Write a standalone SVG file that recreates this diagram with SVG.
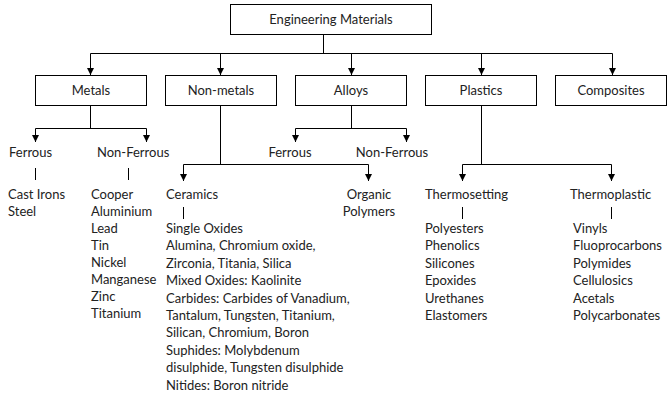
<svg xmlns="http://www.w3.org/2000/svg" width="668" height="396" viewBox="0 0 668 396">
  <style>
    .box { fill: #ffffff; stroke: #000000; stroke-width: 1; }
    .wire { fill: none; stroke: #000000; stroke-width: 1; }
    text { font-family: Lato, "Open Sans", "Liberation Sans", sans-serif; font-size: 13px; fill: #222222; }
    .c { text-anchor: middle; }
  </style>
  <defs>
    <marker id="arrow" viewBox="0 0 10 10" refX="10" refY="5" markerWidth="8" markerHeight="7" orient="auto" markerUnits="userSpaceOnUse">
      <path d="M0,0 L10,5 L0,10 z" fill="#000000"/>
    </marker>
  </defs>

  <rect width="668" height="396" fill="#ffffff"/>

  <!-- connectors -->
  <g id="connectors" class="wire">
    <path d="M323.5,34 V53.5"/>
    <path d="M90.5,53.5 H612.5"/>
    <path d="M90.5,53.5 V75" marker-end="url(#arrow)"/>
    <path d="M220.5,53.5 V75" marker-end="url(#arrow)"/>
    <path d="M351.5,53.5 V75" marker-end="url(#arrow)"/>
    <path d="M481.5,53.5 V75" marker-end="url(#arrow)"/>
    <path d="M612.5,53.5 V75" marker-end="url(#arrow)"/>

    <!-- metals -->
    <path d="M90.5,105 V128.5"/>
    <path d="M35.5,128.5 H146.5"/>
    <path d="M35.5,128.5 V142" marker-end="url(#arrow)"/>
    <path d="M146.5,128.5 V142" marker-end="url(#arrow)"/>
    <path d="M35.5,168 V180"/>
    <path d="M128.5,168 V180"/>

    <!-- non-metals -->
    <path d="M220.5,105 V164.5"/>
    <path d="M183.5,164.5 H368.5"/>
    <path d="M183.5,164.5 V181" marker-end="url(#arrow)"/>
    <path d="M368.5,164.5 V181" marker-end="url(#arrow)"/>
    <path d="M183.5,207 V219"/>

    <!-- alloys -->
    <path d="M351.5,105 V128.5"/>
    <path d="M295.5,128.5 H406.5"/>
    <path d="M295.5,128.5 V142" marker-end="url(#arrow)"/>
    <path d="M406.5,128.5 V142" marker-end="url(#arrow)"/>

    <!-- plastics -->
    <path d="M481.5,105 V164.5"/>
    <path d="M462.5,164.5 H611.5"/>
    <path d="M462.5,164.5 V181" marker-end="url(#arrow)"/>
    <path d="M611.5,164.5 V181" marker-end="url(#arrow)"/>
    <path d="M462.5,207 V219"/>
    <path d="M611.5,207 V219"/>
  </g>

  <!-- root -->
  <g id="engineering-materials">
    <rect class="box" x="230.5" y="4.5" width="201" height="30"/>
    <text class="c" x="331" y="24">Engineering Materials</text>
  </g>

  <g id="metals">
    <rect class="box" x="35.5" y="75.5" width="111" height="30"/>
    <text class="c" x="91" y="95">Metals</text>
  </g>
  <g id="non-metals">
    <rect class="box" x="165.5" y="75.5" width="111" height="30"/>
    <text class="c" x="221" y="95">Non-metals</text>
  </g>
  <g id="alloys">
    <rect class="box" x="295.5" y="75.5" width="111" height="30"/>
    <text class="c" x="351" y="95">Alloys</text>
  </g>
  <g id="plastics">
    <rect class="box" x="425.5" y="75.5" width="111" height="30"/>
    <text class="c" x="481" y="95">Plastics</text>
  </g>
  <g id="composites">
    <rect class="box" x="555.5" y="75.5" width="111" height="30"/>
    <text class="c" x="611" y="95">Composites</text>
  </g>

  <!-- metals branches -->
  <g id="metals-ferrous">
    <text x="9" y="157">Ferrous</text>
    <text x="8" y="199">Cast Irons</text>
    <text x="8" y="216">Steel</text>
  </g>
  <g id="metals-non-ferrous">
    <text x="97" y="157">Non-Ferrous</text>
    <text x="91" y="199">Cooper</text>
    <text x="91" y="216">Aluminium</text>
    <text x="91" y="233">Lead</text>
    <text x="91" y="250">Tin</text>
    <text x="91" y="267">Nickel</text>
    <text x="91" y="284">Manganese</text>
    <text x="91" y="301">Zinc</text>
    <text x="91" y="318">Titanium</text>
  </g>

  <!-- non-metals branches -->
  <g id="ceramics">
    <text x="166" y="199">Ceramics</text>
    <text x="166" y="233">Single Oxides</text>
    <text x="166" y="250.4">Alumina, Chromium oxide,</text>
    <text x="166" y="267.8">Zirconia, Titania, Silica</text>
    <text x="166" y="285.2">Mixed Oxides: Kaolinite</text>
    <text x="166" y="302.6">Carbides: Carbides of Vanadium,</text>
    <text x="166" y="320">Tantalum, Tungsten, Titanium,</text>
    <text x="166" y="337.4">Silican, Chromium, Boron</text>
    <text x="166" y="354.8">Suphides: Molybdenum</text>
    <text x="166" y="372.2">disulphide, Tungsten disulphide</text>
    <text x="166" y="389.6">Nitides: Boron nitride</text>
  </g>
  <g id="organic-polymers">
    <text class="c" x="369" y="199">Organic</text>
    <text class="c" x="369" y="216">Polymers</text>
  </g>

  <!-- alloys branches -->
  <g id="alloys-ferrous">
    <text class="c" x="290" y="157">Ferrous</text>
  </g>
  <g id="alloys-non-ferrous">
    <text class="c" x="392" y="157">Non-Ferrous</text>
  </g>

  <!-- plastics branches -->
  <g id="thermosetting">
    <text x="425" y="199">Thermosetting</text>
    <text x="425" y="233">Polyesters</text>
    <text x="425" y="250.4">Phenolics</text>
    <text x="425" y="267.8">Silicones</text>
    <text x="425" y="285.2">Epoxides</text>
    <text x="425" y="302.6">Urethanes</text>
    <text x="425" y="320">Elastomers</text>
  </g>
  <g id="thermoplastic">
    <text x="570" y="199">Thermoplastic</text>
    <text x="573" y="233">Vinyls</text>
    <text x="573" y="250.4">Fluoprocarbons</text>
    <text x="573" y="267.8">Polymides</text>
    <text x="573" y="285.2">Cellulosics</text>
    <text x="573" y="302.6">Acetals</text>
    <text x="573" y="320">Polycarbonates</text>
  </g>
</svg>
